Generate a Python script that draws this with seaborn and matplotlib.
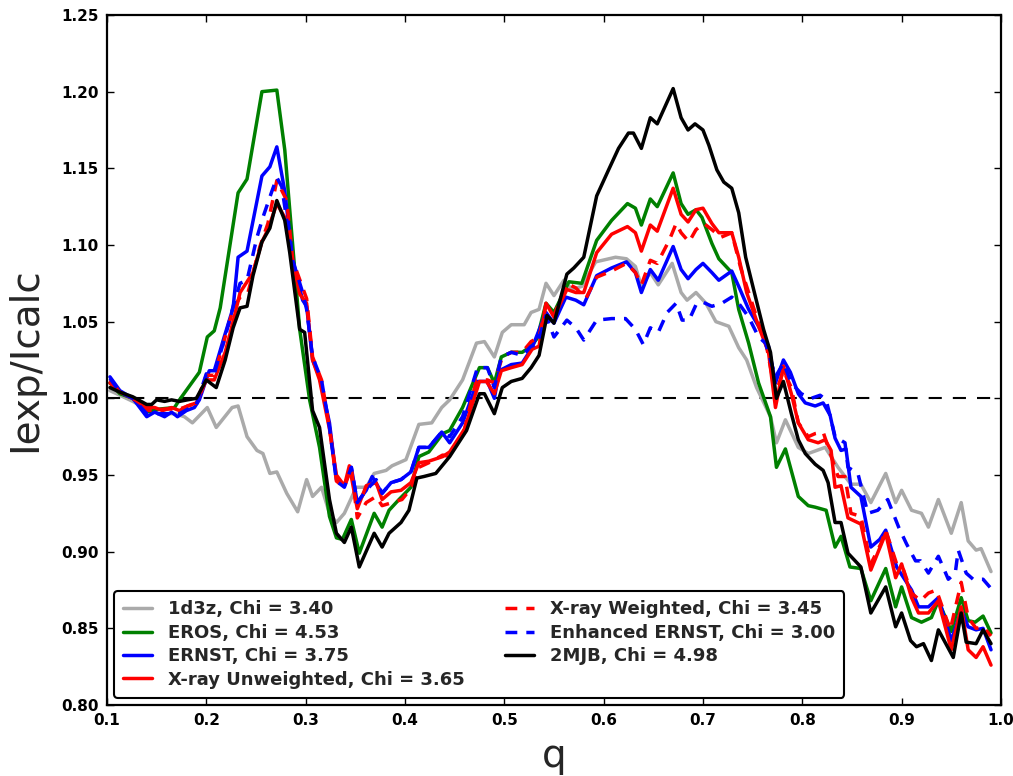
import matplotlib
matplotlib.use("Agg")
import matplotlib.pyplot as plt
import numpy as np
import pandas as pd
import seaborn as sns
from matplotlib.ticker import FormatStrFormatter

# ---------------- data (q, Iexp/Icalc) ----------------
d1d3z = [(0.103, 1.005), (0.113, 1.002), (0.126, 0.998), (0.140, 0.993), (0.153, 0.990), (0.168, 0.990),
         (0.178, 0.988), (0.186, 0.984), (0.201, 0.994), (0.210, 0.981), (0.226, 0.994), (0.232, 0.995),
         (0.241, 0.975), (0.251, 0.966), (0.257, 0.964), (0.264, 0.951), (0.271, 0.952), (0.281, 0.938),
         (0.292, 0.926), (0.301, 0.947), (0.307, 0.936), (0.316, 0.942), (0.324, 0.925), (0.331, 0.919),
         (0.339, 0.925), (0.351, 0.942), (0.361, 0.942), (0.369, 0.951), (0.381, 0.953), (0.387, 0.956),
         (0.401, 0.960), (0.414, 0.983), (0.427, 0.984), (0.437, 0.994), (0.445, 0.999), (0.458, 1.012),
         (0.472, 1.036), (0.480, 1.037), (0.490, 1.027), (0.498, 1.043), (0.507, 1.048), (0.520, 1.048),
         (0.527, 1.056), (0.535, 1.058), (0.542, 1.075), (0.550, 1.067), (0.560, 1.077), (0.568, 1.071),
         (0.578, 1.073), (0.592, 1.089), (0.612, 1.092), (0.623, 1.091), (0.632, 1.086), (0.638, 1.073),
         (0.647, 1.082), (0.655, 1.074), (0.669, 1.088), (0.678, 1.069), (0.684, 1.064), (0.693, 1.069),
         (0.703, 1.062), (0.713, 1.050), (0.726, 1.047), (0.736, 1.033), (0.744, 1.025), (0.754, 1.007),
         (0.768, 0.988), (0.774, 0.971), (0.783, 0.986), (0.796, 0.968), (0.806, 0.964), (0.823, 0.968),
         (0.836, 0.955), (0.849, 0.944), (0.859, 0.944), (0.869, 0.932), (0.884, 0.951), (0.894, 0.932),
         (0.900, 0.940), (0.910, 0.927), (0.920, 0.925), (0.927, 0.916), (0.937, 0.934), (0.950, 0.912),
         (0.960, 0.932), (0.967, 0.907), (0.975, 0.901), (0.980, 0.902), (0.990, 0.887)]

eros = [(0.103, 1.010), (0.113, 1.003), (0.126, 1.000), (0.140, 0.991), (0.153, 0.993), (0.168, 0.994),
        (0.173, 0.999), (0.183, 1.008), (0.193, 1.017), (0.201, 1.040), (0.208, 1.044), (0.214, 1.059),
        (0.232, 1.134), (0.241, 1.143), (0.256, 1.200), (0.271, 1.201), (0.279, 1.162), (0.294, 1.045),
        (0.304, 0.999), (0.314, 0.968), (0.324, 0.923), (0.331, 0.909), (0.337, 0.908), (0.346, 0.921),
        (0.354, 0.899), (0.369, 0.925), (0.377, 0.916), (0.384, 0.927), (0.394, 0.934), (0.406, 0.942),
        (0.414, 0.962), (0.424, 0.965), (0.438, 0.977), (0.445, 0.979), (0.458, 0.994), (0.475, 1.020),
        (0.483, 1.020), (0.490, 1.010), (0.497, 1.027), (0.507, 1.030), (0.518, 1.030), (0.527, 1.034),
        (0.533, 1.039), (0.542, 1.062), (0.550, 1.056), (0.565, 1.076), (0.578, 1.075), (0.593, 1.103),
        (0.608, 1.116), (0.624, 1.127), (0.632, 1.124), (0.638, 1.113), (0.647, 1.130), (0.654, 1.125),
        (0.670, 1.147), (0.678, 1.127), (0.685, 1.120), (0.693, 1.123), (0.699, 1.118), (0.709, 1.101),
        (0.716, 1.091), (0.729, 1.082), (0.736, 1.058), (0.746, 1.036), (0.756, 1.010), (0.768, 0.988),
        (0.774, 0.955), (0.783, 0.967), (0.796, 0.936), (0.806, 0.930), (0.813, 0.929), (0.824, 0.927),
        (0.833, 0.903), (0.839, 0.910), (0.848, 0.890), (0.859, 0.889), (0.869, 0.868), (0.884, 0.889),
        (0.894, 0.864), (0.900, 0.877), (0.910, 0.857), (0.920, 0.854), (0.930, 0.857), (0.937, 0.868),
        (0.950, 0.848), (0.960, 0.870), (0.967, 0.855), (0.974, 0.854), (0.982, 0.858), (0.990, 0.847)]

ernst = [(0.103, 1.014), (0.113, 1.005), (0.126, 1.000), (0.140, 0.988), (0.148, 0.991), (0.158, 0.988),
         (0.165, 0.991), (0.171, 0.988), (0.180, 0.992), (0.188, 0.994), (0.193, 0.999), (0.203, 1.018),
         (0.208, 1.018), (0.218, 1.040), (0.227, 1.059), (0.232, 1.092), (0.241, 1.096), (0.256, 1.145),
         (0.264, 1.151), (0.271, 1.164), (0.279, 1.135), (0.287, 1.090), (0.297, 1.064), (0.301, 1.060),
         (0.307, 1.025), (0.314, 1.014), (0.324, 0.984), (0.331, 0.947), (0.339, 0.943), (0.346, 0.955),
         (0.352, 0.932), (0.361, 0.940), (0.367, 0.949), (0.377, 0.938), (0.386, 0.945), (0.396, 0.947),
         (0.406, 0.952), (0.414, 0.968), (0.424, 0.968), (0.437, 0.978), (0.445, 0.971), (0.458, 0.984),
         (0.473, 1.011), (0.483, 1.011), (0.490, 1.000), (0.495, 1.018), (0.507, 1.022), (0.518, 1.023),
         (0.528, 1.033), (0.542, 1.056), (0.550, 1.049), (0.562, 1.066), (0.572, 1.064), (0.580, 1.061),
         (0.593, 1.080), (0.608, 1.085), (0.623, 1.089), (0.632, 1.082), (0.638, 1.069), (0.647, 1.084),
         (0.655, 1.077), (0.670, 1.099), (0.678, 1.084), (0.685, 1.078), (0.693, 1.084), (0.700, 1.088),
         (0.709, 1.082), (0.716, 1.077), (0.729, 1.083), (0.736, 1.073), (0.746, 1.058), (0.756, 1.047),
         (0.766, 1.034), (0.773, 1.010), (0.781, 1.025), (0.788, 1.017), (0.796, 1.003), (0.803, 0.997),
         (0.813, 0.995), (0.821, 0.997), (0.828, 0.989), (0.833, 0.974), (0.839, 0.966), (0.844, 0.967),
         (0.849, 0.942), (0.859, 0.936), (0.869, 0.903), (0.878, 0.908), (0.884, 0.914), (0.895, 0.890),
         (0.910, 0.875), (0.917, 0.864), (0.927, 0.864), (0.937, 0.870), (0.950, 0.842), (0.960, 0.862),
         (0.967, 0.851), (0.975, 0.849), (0.982, 0.850), (0.990, 0.836)]

xray_unweighted = [(0.103, 1.010), (0.113, 1.004), (0.126, 1.000), (0.140, 0.994), (0.148, 0.994),
                   (0.156, 0.992), (0.165, 0.994), (0.173, 0.992), (0.181, 0.995), (0.190, 0.997),
                   (0.200, 1.012), (0.208, 1.012), (0.219, 1.030), (0.227, 1.050), (0.234, 1.069),
                   (0.247, 1.082), (0.256, 1.102), (0.262, 1.110), (0.271, 1.127), (0.279, 1.118),
                   (0.287, 1.090), (0.294, 1.068), (0.301, 1.062), (0.307, 1.025), (0.314, 1.012),
                   (0.324, 0.980), (0.331, 0.950), (0.339, 0.943), (0.344, 0.956), (0.352, 0.928),
                   (0.361, 0.943), (0.371, 0.945), (0.377, 0.934), (0.386, 0.939), (0.396, 0.940),
                   (0.406, 0.945), (0.414, 0.958), (0.424, 0.959), (0.438, 0.962), (0.445, 0.965),
                   (0.460, 0.980), (0.475, 1.011), (0.482, 1.011), (0.490, 1.003), (0.497, 1.018),
                   (0.507, 1.020), (0.518, 1.022), (0.528, 1.032), (0.535, 1.034), (0.542, 1.062),
                   (0.550, 1.053), (0.563, 1.071), (0.572, 1.069), (0.580, 1.069), (0.593, 1.095),
                   (0.608, 1.107), (0.624, 1.112), (0.632, 1.108), (0.638, 1.096), (0.647, 1.113),
                   (0.654, 1.109), (0.670, 1.137), (0.678, 1.120), (0.685, 1.115), (0.693, 1.123),
                   (0.700, 1.124), (0.709, 1.114), (0.716, 1.108), (0.729, 1.108), (0.736, 1.092),
                   (0.744, 1.069), (0.756, 1.047), (0.766, 1.030), (0.773, 0.994), (0.781, 1.021),
                   (0.789, 1.003), (0.796, 0.984), (0.806, 0.973), (0.816, 0.971), (0.823, 0.973),
                   (0.829, 0.966), (0.833, 0.942), (0.839, 0.943), (0.846, 0.922), (0.859, 0.918),
                   (0.869, 0.888), (0.884, 0.912), (0.894, 0.883), (0.900, 0.892), (0.910, 0.870),
                   (0.917, 0.860), (0.927, 0.860), (0.937, 0.868), (0.950, 0.836), (0.960, 0.864),
                   (0.967, 0.836), (0.975, 0.831), (0.982, 0.838), (0.990, 0.826)]

xray_weighted = [(0.103, 1.012), (0.113, 1.004), (0.126, 1.000), (0.140, 0.992), (0.158, 0.993),
                 (0.173, 0.993), (0.190, 0.997), (0.200, 1.015), (0.208, 1.015), (0.219, 1.040),
                 (0.227, 1.058), (0.234, 1.066), (0.242, 1.069), (0.254, 1.099), (0.262, 1.114),
                 (0.271, 1.142), (0.281, 1.129), (0.287, 1.090), (0.301, 1.065), (0.307, 1.027),
                 (0.316, 1.012), (0.324, 0.981), (0.331, 0.946), (0.339, 0.942), (0.346, 0.955),
                 (0.352, 0.922), (0.361, 0.932), (0.371, 0.936), (0.377, 0.930), (0.387, 0.932),
                 (0.397, 0.934), (0.407, 0.942), (0.414, 0.955), (0.424, 0.958), (0.438, 0.963),
                 (0.445, 0.962), (0.460, 0.980), (0.472, 1.012), (0.483, 1.012), (0.490, 1.010),
                 (0.498, 1.027), (0.507, 1.030), (0.518, 1.030), (0.527, 1.037), (0.535, 1.040),
                 (0.542, 1.061), (0.550, 1.054), (0.563, 1.075), (0.572, 1.072), (0.582, 1.065),
                 (0.593, 1.079), (0.608, 1.083), (0.623, 1.088), (0.632, 1.082), (0.638, 1.074),
                 (0.647, 1.090), (0.654, 1.088), (0.666, 1.103), (0.673, 1.114), (0.678, 1.108),
                 (0.686, 1.102), (0.693, 1.110), (0.701, 1.114), (0.709, 1.110), (0.718, 1.105),
                 (0.729, 1.108), (0.738, 1.085), (0.746, 1.069), (0.756, 1.049), (0.764, 1.034),
                 (0.773, 1.003), (0.781, 1.018), (0.789, 1.007), (0.796, 0.984), (0.806, 0.975),
                 (0.813, 0.977), (0.821, 0.978), (0.836, 0.949), (0.843, 0.949), (0.849, 0.925),
                 (0.859, 0.923), (0.869, 0.892), (0.879, 0.905), (0.884, 0.914), (0.895, 0.892),
                 (0.902, 0.888), (0.910, 0.873), (0.919, 0.868), (0.927, 0.873), (0.935, 0.875),
                 (0.949, 0.849), (0.960, 0.880), (0.967, 0.857), (0.975, 0.850), (0.982, 0.851),
                 (0.990, 0.845)]

enhanced_ernst = [(0.103, 1.013), (0.113, 1.004), (0.126, 1.000), (0.140, 0.990), (0.158, 0.990),
                  (0.173, 0.990), (0.190, 0.996), (0.200, 1.016), (0.208, 1.016), (0.219, 1.040),
                  (0.227, 1.060), (0.234, 1.075), (0.241, 1.077), (0.251, 1.105), (0.257, 1.118),
                  (0.266, 1.135), (0.271, 1.144), (0.276, 1.138), (0.287, 1.090), (0.297, 1.069),
                  (0.301, 1.058), (0.307, 1.027), (0.316, 1.012), (0.324, 0.981), (0.331, 0.946),
                  (0.339, 0.942), (0.346, 0.955), (0.352, 0.932), (0.361, 0.940), (0.371, 0.947),
                  (0.377, 0.938), (0.386, 0.945), (0.396, 0.947), (0.406, 0.952), (0.414, 0.968),
                  (0.424, 0.968), (0.437, 0.978), (0.445, 0.975), (0.458, 0.988), (0.473, 1.020),
                  (0.483, 1.020), (0.490, 1.007), (0.497, 1.027), (0.507, 1.030), (0.518, 1.028),
                  (0.527, 1.034), (0.533, 1.035), (0.542, 1.054), (0.550, 1.040), (0.563, 1.051),
                  (0.572, 1.046), (0.580, 1.038), (0.593, 1.051), (0.608, 1.052), (0.622, 1.052),
                  (0.632, 1.045), (0.640, 1.035), (0.647, 1.046), (0.655, 1.043), (0.664, 1.056),
                  (0.673, 1.062), (0.679, 1.051), (0.686, 1.051), (0.693, 1.061), (0.699, 1.063),
                  (0.709, 1.060), (0.719, 1.062), (0.729, 1.066), (0.736, 1.062), (0.746, 1.053),
                  (0.756, 1.040), (0.763, 1.036), (0.773, 1.014), (0.781, 1.023), (0.789, 1.010),
                  (0.799, 1.003), (0.809, 1.000), (0.818, 1.002), (0.824, 0.999), (0.829, 0.986),
                  (0.833, 0.975), (0.843, 0.971), (0.846, 0.955), (0.856, 0.951), (0.866, 0.925),
                  (0.876, 0.927), (0.886, 0.934), (0.897, 0.916), (0.905, 0.905), (0.914, 0.894),
                  (0.919, 0.894), (0.927, 0.886), (0.937, 0.897), (0.947, 0.882), (0.954, 0.886),
                  (0.957, 0.901), (0.965, 0.886), (0.972, 0.882), (0.982, 0.882), (0.990, 0.876)]

mjb = [(0.103, 1.007), (0.113, 1.004), (0.126, 1.001), (0.140, 0.996), (0.145, 0.996), (0.150, 0.999),
       (0.158, 0.998), (0.165, 0.999), (0.173, 0.998), (0.181, 0.999), (0.190, 1.000), (0.200, 1.012),
       (0.210, 1.007), (0.219, 1.025), (0.227, 1.046), (0.234, 1.059), (0.241, 1.060), (0.247, 1.080),
       (0.256, 1.102), (0.264, 1.111), (0.271, 1.129), (0.279, 1.116), (0.284, 1.095), (0.291, 1.060),
       (0.294, 1.045), (0.299, 1.043), (0.307, 0.992), (0.314, 0.981), (0.324, 0.934), (0.331, 0.912),
       (0.339, 0.906), (0.346, 0.916), (0.354, 0.890), (0.369, 0.912), (0.377, 0.903), (0.384, 0.912),
       (0.396, 0.919), (0.404, 0.927), (0.412, 0.948), (0.419, 0.949), (0.431, 0.951), (0.445, 0.962),
       (0.462, 0.979), (0.475, 1.003), (0.480, 1.003), (0.490, 0.990), (0.498, 1.007), (0.507, 1.011),
       (0.518, 1.013), (0.527, 1.020), (0.535, 1.028), (0.543, 1.054), (0.550, 1.049), (0.563, 1.081),
       (0.570, 1.085), (0.580, 1.092), (0.593, 1.132), (0.605, 1.149), (0.615, 1.163), (0.625, 1.173),
       (0.630, 1.173), (0.638, 1.163), (0.647, 1.183), (0.654, 1.179), (0.670, 1.202), (0.678, 1.183),
       (0.685, 1.175), (0.692, 1.179), (0.700, 1.175), (0.706, 1.165), (0.714, 1.149), (0.721, 1.141),
       (0.729, 1.137), (0.736, 1.121), (0.743, 1.092), (0.751, 1.071), (0.761, 1.045), (0.768, 1.030),
       (0.774, 1.000), (0.781, 1.011), (0.789, 0.990), (0.796, 0.973), (0.803, 0.964), (0.813, 0.957),
       (0.821, 0.953), (0.826, 0.945), (0.833, 0.919), (0.839, 0.919), (0.846, 0.899), (0.859, 0.890),
       (0.869, 0.860), (0.884, 0.877), (0.894, 0.851), (0.900, 0.860), (0.909, 0.842), (0.915, 0.838),
       (0.922, 0.840), (0.930, 0.829), (0.937, 0.849), (0.952, 0.831), (0.960, 0.860), (0.965, 0.841),
       (0.975, 0.840), (0.982, 0.849), (0.990, 0.840)]

labels = ["1d3z, Chi = 3.40", "EROS, Chi = 4.53", "ERNST, Chi = 3.75",
          "X-ray Unweighted, Chi = 3.65", "X-ray Weighted, Chi = 3.45",
          "Enhanced ERNST, Chi = 3.00", "2MJB, Chi = 4.98"]
datasets = [d1d3z, eros, ernst, xray_unweighted, xray_weighted, enhanced_ernst, mjb]
colors = ["#aaaaaa", "#008000", "#0000ff", "#ff0000", "#ff0000", "#0000ff", "#000000"]
dashed = [False, False, False, False, True, True, False]

xticks = [0.1, 0.2, 0.3, 0.4, 0.5, 0.6, 0.7, 0.8, 0.9, 1.0]
yticks = [0.80, 0.85, 0.90, 0.95, 1.00, 1.05, 1.10, 1.15, 1.20, 1.25]

# ---------------- plot ----------------
sns.set_style("ticks")
plt.rcParams["font.family"] = ["DejaVu Sans"]

fig = plt.figure(figsize=(10.13, 7.76), dpi=100)
ax = fig.add_axes([0.1056, 0.0915, 0.8825, 0.8892])

for data, lab, col, dsh in zip(datasets, labels, colors, dashed):
    df = pd.DataFrame(data, columns=["q", "ratio"])
    ls = (0, (3.4, 2.6)) if dsh else "-"
    sns.lineplot(data=df, x="q", y="ratio", ax=ax, color=col, linewidth=2.5,
                 linestyle=ls, label=lab, errorbar=None, legend=False)

ax.axhline(1.0, color="black", linewidth=1.5, linestyle=(0, (6.3, 5.3)), zorder=1)

ax.set_xlim(0.1, 1.0)
ax.set_ylim(0.80, 1.25)
ax.set_xticks(xticks)
ax.set_yticks(yticks)
ax.xaxis.set_major_formatter(FormatStrFormatter("%.1f"))
ax.yaxis.set_major_formatter(FormatStrFormatter("%.2f"))
ax.tick_params(direction="in", top=True, right=True, length=5, width=1,
               pad=6, labelsize=11, colors="black")
for t in ax.get_xticklabels() + ax.get_yticklabels():
    t.set_fontweight("bold")
for sp in ax.spines.values():
    sp.set_visible(True)
    sp.set_color("black")
    sp.set_linewidth(1.6)

ax.set_xlabel("q", fontsize=28, labelpad=6)
ax.set_ylabel("Iexp/Icalc", fontsize=28, labelpad=12)

leg = ax.legend(loc="lower left", ncol=2, prop={"weight": "bold", "size": 13},
                frameon=True, fancybox=True, framealpha=1, edgecolor="black",
                handlelength=1.6, handletextpad=0.9, labelspacing=0.3,
                columnspacing=2.2, borderaxespad=0.4, borderpad=0.5)
leg.get_frame().set_linewidth(1.5)

fig.savefig("out.png", dpi=100)
